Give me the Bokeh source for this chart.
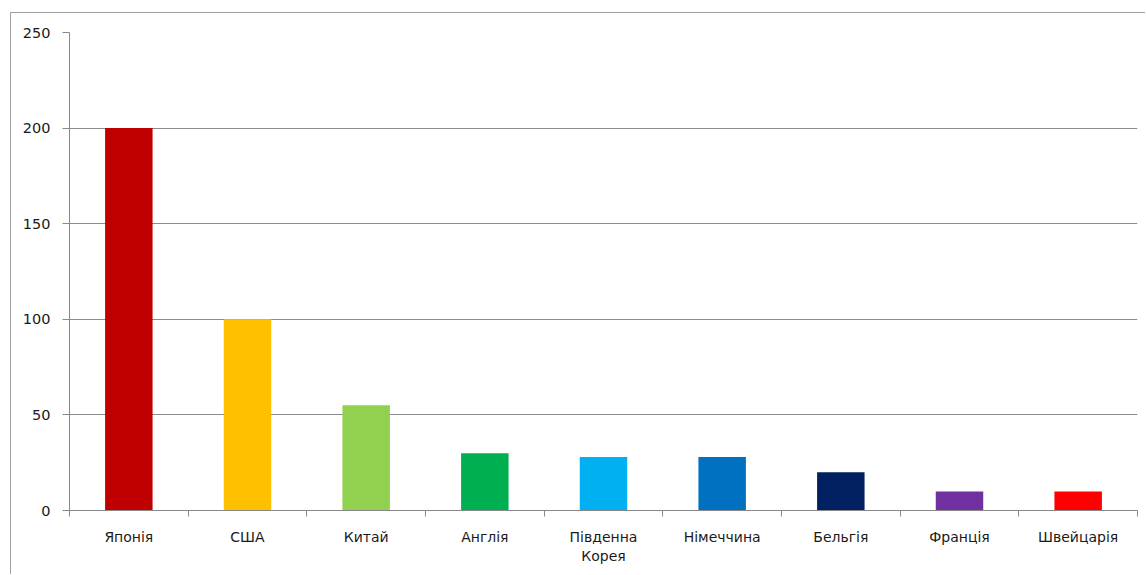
from bokeh.plotting import figure
from bokeh.models import Range1d, FixedTicker
from bokeh.embed import file_html
from bokeh.resources import INLINE
import numpy as np

categories = ["Японія", "США", "Китай", "Англія", "Південна\nКорея", "Німеччина", "Бельгія", "Франція", "Швейцарія"]
values = [200, 100, 55, 30, 28, 28, 20, 10, 10]
colors = ["#C00000", "#FFC000", "#92D050", "#00B050", "#00B0F0", "#0070C0", "#002060", "#7030A0", "#FF0000"]
y_ticks = [0, 50, 100, 150, 200, 250]

n = len(categories)
xs = np.arange(n) + 0.5

p = figure(width=1135, height=562, output_backend="svg", toolbar_location=None,
           x_range=Range1d(0, n), y_range=Range1d(0, 250),
           min_border_left=58, min_border_top=19, min_border_right=9, min_border_bottom=65)
p.margin = (12, 0, 0, 10)
p.styles = {"border-left": "1px solid #a0a0a0", "border-top": "1px solid #a0a0a0"}
p.outline_line_color = None
p.background_fill_color = "white"

p.vbar(x=xs, top=values, width=0.40, bottom=0, color=colors, line_color=None)

# y axis
p.yaxis.ticker = FixedTicker(ticks=y_ticks, minor_ticks=[])
p.yaxis.axis_line_color = "#888888"
p.yaxis.major_tick_line_color = "#888888"
p.yaxis.major_tick_out = 7
p.yaxis.major_tick_in = 0
p.yaxis.minor_tick_line_color = None
p.yaxis.major_label_text_font = "DejaVu Sans"
p.yaxis.major_label_text_font_size = "14.5px"
p.yaxis.major_label_text_color = "#1a1a1a"
p.yaxis.major_label_standoff = 12

# x axis
p.xaxis.ticker = FixedTicker(ticks=list(xs), minor_ticks=list(range(n + 1)))
p.xaxis.major_label_overrides = {float(x): c for x, c in zip(xs, categories)}
p.xaxis.axis_line_color = "#888888"
p.xaxis.major_tick_line_color = None
p.xaxis.minor_tick_line_color = "#888888"
p.xaxis.minor_tick_out = 6
p.xaxis.minor_tick_in = 0
p.xaxis.major_tick_out = 6
p.xaxis.major_label_text_font = "DejaVu Sans"
p.xaxis.major_label_text_font_size = "14px"
p.xaxis.major_label_text_color = "#1a1a1a"
p.xaxis.major_label_standoff = 12

p.xgrid.grid_line_color = None
p.ygrid.ticker = FixedTicker(ticks=y_ticks)
p.ygrid.grid_line_color = "#8c8c8c"
p.ygrid.grid_line_width = 1

open("out.html", "w").write(file_html(p, INLINE))
